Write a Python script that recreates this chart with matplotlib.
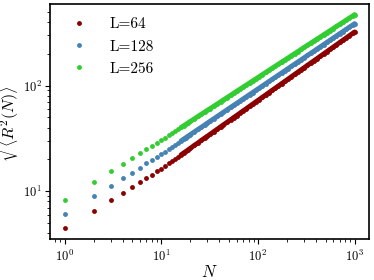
import matplotlib as mpl
mpl.use('Agg')
import matplotlib.pyplot as plt

plt.rcParams['mathtext.fontset'] = 'cm'
plt.rcParams['font.family'] = 'serif'
plt.rcParams['font.serif'] = ['cmr10', 'DejaVu Serif']
plt.rcParams['axes.formatter.use_mathtext'] = True

# chain length
N = [1, 2, 3, 4, 5, 6, 7, 8, 9, 10, 11, 12, 13, 14, 15, 16, 17, 18, 19, 20,
     22, 24, 26, 28, 30, 32, 35, 38, 41, 44, 48, 52, 56, 60, 65, 70, 76, 82,
     88, 95, 103, 111, 120, 130, 140, 151, 163, 176, 190, 205, 221, 239, 258,
     279, 301, 325, 351, 379, 409, 442, 477, 515, 556, 601, 649, 701, 757,
     817, 883, 954, 1000]

r_L64 = [4.44, 6.53, 8.22, 9.66, 11.0, 12.2, 13.3, 14.3, 15.4, 16.3,
         17.3, 18.3, 19.3, 20.3, 21.2, 22.1, 23.0, 23.8, 24.7, 25.5,
         27.2, 28.7, 30.3, 31.8, 33.2, 34.6, 36.7, 38.7, 40.7, 42.6, 45.0,
         47.4, 49.8, 52.0, 54.8, 57.5, 60.6, 63.7, 66.7, 70.1, 73.8, 77.5,
         81.5, 85.9, 90.1, 94.6, 99.4, 104.5, 109.8, 115.3, 121.1, 127.4,
         133.9, 140.9, 148.0, 155.5, 163.5, 171.8, 180.4, 189.7, 199.4,
         209.5, 220.2, 231.6, 243.4, 255.9, 269.0, 282.5, 297.1, 312.4, 322.0]

r_L128 = [6.06, 8.97, 11.2, 13.3, 15.0, 16.6, 18.3, 19.6, 21.0, 22.4,
          23.7, 25.1, 26.3, 27.6, 28.8, 29.9, 31.1, 32.2, 33.3, 34.4,
          36.5, 38.5, 40.4, 42.3, 44.2, 46.0, 48.6, 51.1, 53.6, 56.0, 59.1,
          62.1, 65.0, 67.8, 71.2, 74.6, 78.5, 82.3, 85.9, 90.1, 94.7, 99.2,
          104.1, 109.4, 114.5, 120.0, 125.8, 131.9, 138.4, 145.0, 151.9,
          159.4, 167.2, 175.4, 183.8, 192.8, 202.2, 212.0, 222.3, 233.2,
          244.5, 256.3, 268.7, 282.0, 295.6, 310.2, 325.2, 340.9, 357.7,
          375.2, 386.0]

r_L256 = [8.3, 12.2, 15.4, 18.2, 20.5, 22.9, 25.0, 26.9, 28.7, 30.4,
          32.1, 33.8, 35.5, 37.1, 38.6, 40.1, 41.6, 43.0, 44.5, 45.8,
          48.5, 51.1, 53.6, 56.0, 58.3, 60.6, 63.9, 67.1, 70.2, 73.3, 77.1,
          80.9, 84.6, 88.1, 92.4, 96.6, 101.4, 106.1, 110.7, 115.8, 121.5,
          127.1, 133.1, 139.6, 145.9, 152.6, 159.7, 167.2, 174.9, 183.0,
          191.4, 200.5, 209.8, 219.8, 230.1, 240.8, 252.1, 263.8, 276.0,
          289.0, 302.5, 316.6, 331.3, 347.0, 363.3, 380.3, 398.2, 416.7,
          436.4, 456.9, 470.0]

series = [('L=64', r_L64, 'darkred'),
          ('L=128', r_L128, 'steelblue'),
          ('L=256', r_L256, 'limegreen')]

# from here on the points sit so close that they merge into a band
dense_from = 15

fig, ax = plt.subplots(figsize=(3.74, 2.8), dpi=100)
fig.subplots_adjust(left=0.134, right=0.987, bottom=0.146, top=0.986)

ms = 3.5
for label, vals, col in series:
    ax.plot(N, vals, 'o', color=col, markersize=ms, markeredgewidth=0,
            label=label)
    ax.plot(N[dense_from:], vals[dense_from:], '-', color=col, lw=ms,
            solid_capstyle='round')

ax.set_xscale('log')
ax.set_yscale('log')
ax.set_xlabel(r'$N$', fontsize=12, labelpad=0)
ax.set_ylabel(r'$\sqrt{\langle R^2(N)\rangle}$', fontsize=11.5)
ax.yaxis.set_label_coords(-0.088, 0.5)
ax.tick_params(which='both', direction='out', labelsize=9)
ax.tick_params(axis='y', which='major', pad=2.5)
for sp in ax.spines.values():
    sp.set_linewidth(1.2)

ax.legend(loc='upper left', frameon=False, fontsize=11, numpoints=1,
          handletextpad=1.0, labelspacing=0.55)

fig.savefig('out.png', dpi=100)
